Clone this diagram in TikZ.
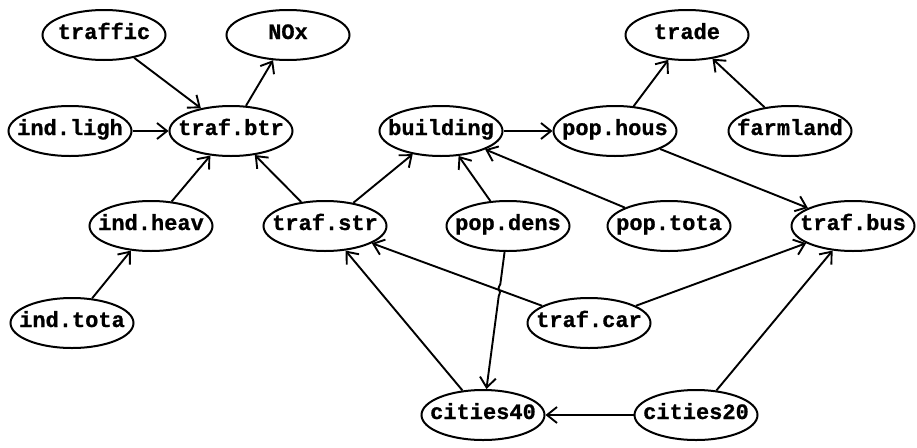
\documentclass[tikz,border=0pt]{standalone}
\usepackage{fontspec}
\newfontfamily\nodefont[FakeBold=0.8]{Liberation Mono}
\usetikzlibrary{shapes.geometric,arrows.meta,calc,intersections}
% zero-width label so every ellipse keeps the same size
\newcommand{\lbl}[1]{\makebox[0pt]{#1}}
\begin{document}
\begin{tikzpicture}[x=1pt,y=-1pt,
  var/.style={draw,ellipse,line width=2pt,minimum width=123pt,minimum height=50pt,
    inner sep=0pt,text height=11pt,text depth=3pt,
    font=\nodefont\bfseries\fontsize{22}{22}\selectfont},
  dep/.style={line width=1.9pt,-{Straight Barb[length=10pt,width=16pt]}}]
\useasboundingbox (0,0) rectangle (917,447);

% variables
\node[var] (tf)   at (104,35)  {\lbl{traffic}};
\node[var] (nox)  at (288,35)  {\lbl{NOx}};
\node[var] (trd)  at (687,35)  {\lbl{trade}};
\node[var] (il)   at (70,131)  {\lbl{ind.ligh}};
\node[var] (tb)   at (231,131) {\lbl{traf.btr}};
\node[var] (bld)  at (441,131) {\lbl{building}};
\node[var] (ph)   at (615,131) {\lbl{pop.hous}};
\node[var] (fl)   at (790,131) {\lbl{farmland}};
\node[var] (ih)   at (151,226) {\lbl{ind.heav}};
\node[var] (ts)   at (325,226) {\lbl{traf.str}};
\node[var] (pd)   at (508,226) {\lbl{pop.dens}};
\node[var] (pt)   at (669,226) {\lbl{pop.tota}};
\node[var] (tbus) at (853,226) {\lbl{traf.bus}};
\node[var] (it)   at (72,323)  {\lbl{ind.tota}};
\node[var] (tc)   at (589,323) {\lbl{traf.car}};
\node[var] (c40)  at (483,415) {\lbl{cities40}};
\node[var] (c20)  at (696,415) {\lbl{cities20}};

% dependencies
\draw[dep] (tf) -- (tb);
\draw[dep] (tb) -- (nox);
\draw[dep] (il) -- (tb);
\draw[dep] (ih) -- (tb);
\draw[dep] (ts) -- (tb);
\draw[dep] (it) -- (ih);
\draw[dep] (ts) -- (bld);
\draw[dep] (pd) -- (bld);
\draw[dep] (pt) -- (bld);
\draw[dep] (bld) -- (ph);
\draw[dep] (ph) -- (trd);
\draw[dep] (fl) -- (trd);
\draw[dep] (ph) -- (tbus);
\draw[dep, name path=carstr] (tc) -- (ts);
\draw[dep] (tc) -- (tbus);
\draw[dep] (c20) -- (tbus);
\draw[dep] (c20) -- (c40);
\draw[dep] (c40) -- (ts);

% pop.dens -> cities40 with a small jog where it crosses traf.car -> traf.str
\path[name path=denscit] (pd) -- (c40);
\path[name intersections={of=carstr and denscit, by=X}];
\coordinate (hopA) at ($(X)!6pt!(pd)$);
\coordinate (hopB) at ($(X)!6pt!(c40)$);
\draw[dep] (pd) -- (hopA) .. controls ($(X)+(-4pt,-2pt)$) and ($(X)+(3pt,2pt)$) .. (hopB) -- (c40);
\end{tikzpicture}
\end{document}
